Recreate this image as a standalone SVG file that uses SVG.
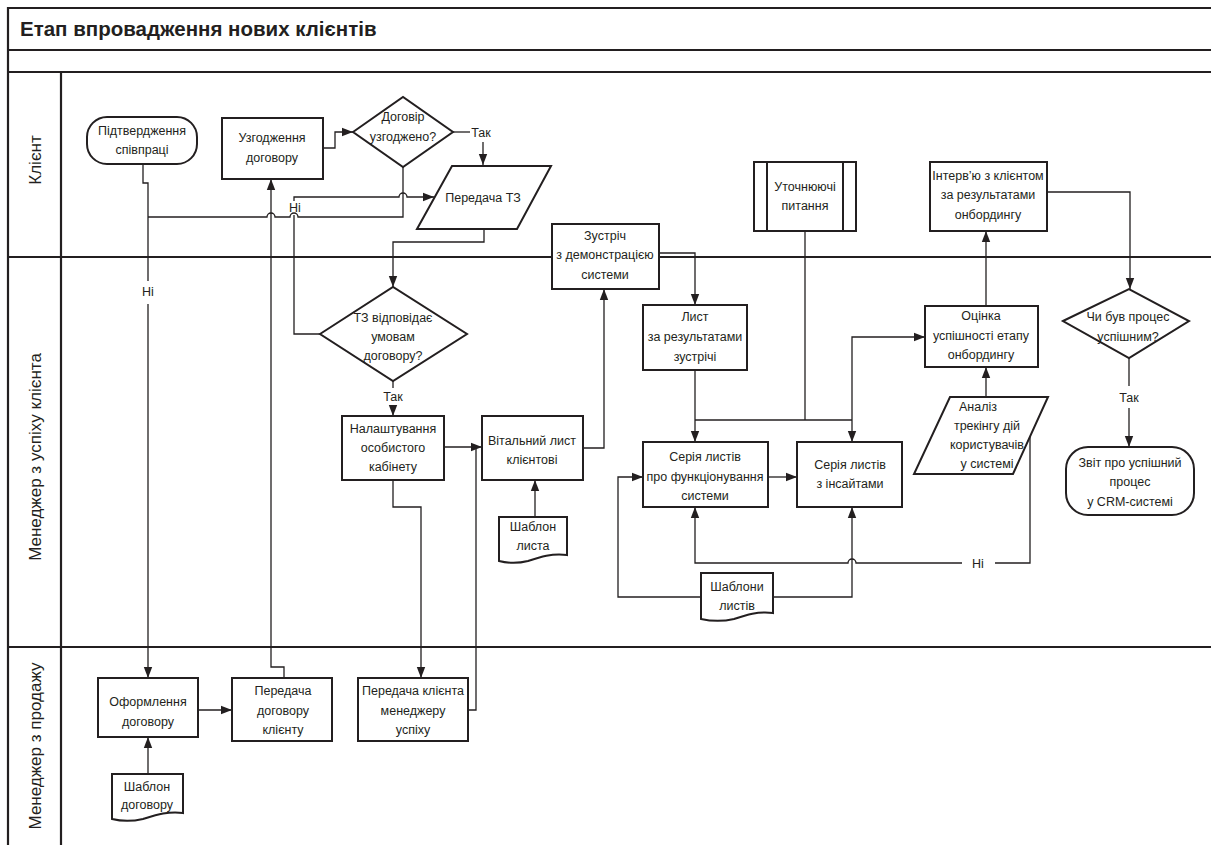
<svg xmlns="http://www.w3.org/2000/svg" width="1211" height="845" viewBox="0 0 1211 845">
<defs>
<marker id="ah" markerWidth="11" markerHeight="10" refX="11" refY="5" orient="auto" markerUnits="userSpaceOnUse"><path d="M0,0.8 L11,5 L0,9.2 Z" fill="#231f20"/></marker>
</defs>
<style>
.frame{fill:none;stroke:#231f20;stroke-width:2.2}
.node{fill:#fff;stroke:#231f20;stroke-width:2}
.c{fill:none;stroke:#231f20;stroke-width:1.3}
.ca{fill:none;stroke:#231f20;stroke-width:1.3;marker-end:url(#ah)}
text{font-family:"Liberation Sans","Arial",sans-serif;font-size:12.5px;fill:#231f20;text-anchor:middle}
.lane{font-size:17px}
.title{font-size:20.5px;font-weight:bold;text-anchor:start}
</style>
<rect x="0" y="0" width="1211" height="845" fill="#fff"/>
<g id="frame">
<path class="frame" d="M8,845 V8 H1213"/>
<path class="frame" d="M8,50 H1213 M8,72 H1213 M8,257 H1213 M8,647 H1213 M61,72 V845"/>
<text class="title" x="20" y="36">Етап впровадження нових клієнтів</text>
<text class="lane" transform="translate(41,160) rotate(-90)">Клієнт</text>
<text class="lane" transform="translate(41,457) rotate(-90)">Менеджер з успіху клієнта</text>
<text class="lane" transform="translate(41,746) rotate(-90)">Менеджер з продажу</text>
</g>
<g id="connectors">
<path class="c" d="M143,163 V183 H148 V281"/>
<path class="ca" d="M148,304 V678"/>
<path class="c" d="M403,167 V217 H298 A4,4 0 0 0 290,217 H275 A4,4 0 0 0 267,217 H148"/>
<path class="ca" d="M323,148 H335 V132 H353"/>
<path class="c" d="M453,132 H470"/>
<path class="ca" d="M483,142 V165"/>
<path class="c" d="M320,334 H294 V215"/>
<path class="ca" d="M294,201 V197 H399 A4,4 0 0 1 407,197 H434"/>
<path class="ca" d="M484,229 V242 H393 V287"/>
<path class="c" d="M393,381 V388"/>
<path class="ca" d="M393,405 V416"/>
<path class="ca" d="M284,678 V667 H271 V179"/>
<path class="ca" d="M198,710 H232"/>
<path class="ca" d="M148,774 V737"/>
<path class="ca" d="M393,480 V507 H421 V678"/>
<path class="c" d="M468,710 H476 V447"/>
<path class="ca" d="M444,447 H482"/>
<path class="ca" d="M535,517 V480"/>
<path class="ca" d="M583,448 H604 V289"/>
<path class="ca" d="M659,253 H695 V305"/>
<path class="ca" d="M695,370 V442"/>
<path class="c" d="M695,420 H852"/>
<path class="c" d="M805,231 V420"/>
<path class="ca" d="M852,420 V442"/>
<path class="ca" d="M852,420 V337 H925"/>
<path class="ca" d="M768,477 H797"/>
<path class="ca" d="M701,597 H618 V477 H643"/>
<path class="ca" d="M773,597 H852 V507"/>
<path class="c" d="M1030,437 V563 H995"/>
<path class="ca" d="M962,563 H856 A4,4 0 0 0 848,563 H695 V507"/>
<path class="ca" d="M986,397 V367"/>
<path class="ca" d="M986,306 V231"/>
<path class="ca" d="M1047,192 H1130 V289"/>
<path class="c" d="M1129,358 V386"/>
<path class="ca" d="M1129,408 V447"/>
<text x="148" y="296">Ні</text>
<text x="295" y="212">Ні</text>
<text x="481" y="137">Так</text>
<text x="393" y="401">Так</text>
<text x="978" y="568">Ні</text>
<text x="1129" y="402">Так</text>
</g>
<g id="n-pidtverdzhennia">
<rect class="node" x="87" y="117" width="110" height="47" rx="20"/>
<text x="142" y="135">Підтвердження</text><text x="142" y="154">співпраці</text>
</g>
<g id="n-uzgodzhennia">
<rect class="node" x="222" y="118" width="101" height="61"/>
<text x="272" y="142">Узгодження</text><text x="272" y="162">договору</text>
</g>
<g id="n-dogovir-uzgodzheno">
<path class="node" d="M353,132 L403,97 L453,132 L403,167 Z"/>
<text x="403" y="121">Договір</text><text x="403" y="141">узгоджено?</text>
</g>
<g id="n-peredacha-tz">
<path class="node" d="M452,166 H551 L517,229 H417 Z"/>
<text x="483" y="202">Передача ТЗ</text>
</g>
<g id="n-tz-vidpovidaie">
<path class="node" d="M320,334 L393,287 L467,334 L393,381 Z"/>
<text x="393" y="322">ТЗ відповідає</text><text x="393" y="341">умовам</text><text x="393" y="360">договору?</text>
</g>
<g id="n-nalashtuvannia">
<rect class="node" x="342" y="416" width="102" height="64"/>
<text x="393" y="433">Налаштування</text><text x="393" y="452">особистого</text><text x="393" y="471">кабінету</text>
</g>
<g id="n-vitalnyi">
<rect class="node" x="482" y="416" width="101" height="64"/>
<text x="532" y="445">Вітальний лист</text><text x="532" y="464">клієнтові</text>
</g>
<g id="n-shablon-lysta">
<path class="node" d="M499,517 H567 V555 C552,553 540,557 528,561 C516,564 507,563 499,561 Z"/>
<text x="533" y="531">Шаблон</text><text x="533" y="550">листа</text>
</g>
<g id="n-zustrich">
<rect class="node" x="552" y="224" width="107" height="65"/>
<text x="605" y="240">Зустріч</text><text x="605" y="259">з демонстрацією</text><text x="605" y="279">системи</text>
</g>
<g id="n-lyst-rezultaty">
<rect class="node" x="643" y="305" width="104" height="65"/>
<text x="695" y="321">Лист</text><text x="695" y="341">за результатами</text><text x="695" y="361">зустрічі</text>
</g>
<g id="n-utochniuiuchi">
<rect class="node" x="754" y="162" width="102" height="69"/>
<path class="c" style="stroke-width:2" d="M767,162 V231 M843,162 V231"/>
<text x="805" y="191">Уточнюючі</text><text x="805" y="210">питання</text>
</g>
<g id="n-seriia-funktsionuvannia">
<rect class="node" x="643" y="442" width="125" height="65"/>
<text x="705" y="461">Серія листів</text><text x="705" y="481">про функціонування</text><text x="705" y="500">системи</text>
</g>
<g id="n-seriia-insaity">
<rect class="node" x="797" y="442" width="105" height="65"/>
<text x="850" y="469">Серія листів</text><text x="850" y="488">з інсайтами</text>
</g>
<g id="n-shablony-lystiv">
<path class="node" d="M701,573 H773 V613 C758,611 746,615 734,619 C721,622 710,621 701,619 Z"/>
<text x="737" y="591">Шаблони</text><text x="737" y="610">листів</text>
</g>
<g id="n-interviu">
<rect class="node" x="930" y="162" width="117" height="69"/>
<text x="988" y="180">Інтерв’ю з клієнтом</text><text x="988" y="199">за результатами</text><text x="988" y="219">онбордингу</text>
</g>
<g id="n-otsinka">
<rect class="node" x="925" y="306" width="113" height="61"/>
<text x="981" y="320">Оцінка</text><text x="981" y="340">успішності етапу</text><text x="981" y="359">онбордингу</text>
</g>
<g id="n-analiz">
<path class="node" d="M950,397 H1048 L1013,474 H914 Z"/>
<text x="978" y="411">Аналіз</text><text x="987" y="430">трекінгу дій</text><text x="987" y="449">користувачів</text><text x="987" y="468">у системі</text>
</g>
<g id="n-chy-buv-protses">
<path class="node" d="M1063,321 L1129,289 L1189,321 L1129,358 Z"/>
<text x="1128" y="321">Чи був процес</text><text x="1128" y="341">успішним?</text>
</g>
<g id="n-zvit">
<rect class="node" x="1066" y="447" width="128" height="68" rx="22"/>
<text x="1130" y="467">Звіт про успішний</text><text x="1130" y="486">процес</text><text x="1130" y="506">у CRM-системі</text>
</g>
<g id="n-oformlennia">
<rect class="node" x="98" y="678" width="100" height="59"/>
<text x="148" y="706">Оформлення</text><text x="148" y="726">договору</text>
</g>
<g id="n-shablon-dogovoru">
<path class="node" d="M112,774 H183 V813 C168,811 156,815 143,819 C130,822 120,821 112,819 Z"/>
<text x="147" y="791">Шаблон</text><text x="147" y="809">договору</text>
</g>
<g id="n-peredacha-dogovoru">
<rect class="node" x="232" y="678" width="100" height="63"/>
<text x="283" y="695">Передача</text><text x="283" y="715">договору</text><text x="283" y="734">клієнту</text>
</g>
<g id="n-peredacha-klienta">
<rect class="node" x="358" y="678" width="110" height="63"/>
<text x="413" y="695">Передача клієнта</text><text x="413" y="715">менеджеру</text><text x="413" y="734">успіху</text>
</g>
</svg>
